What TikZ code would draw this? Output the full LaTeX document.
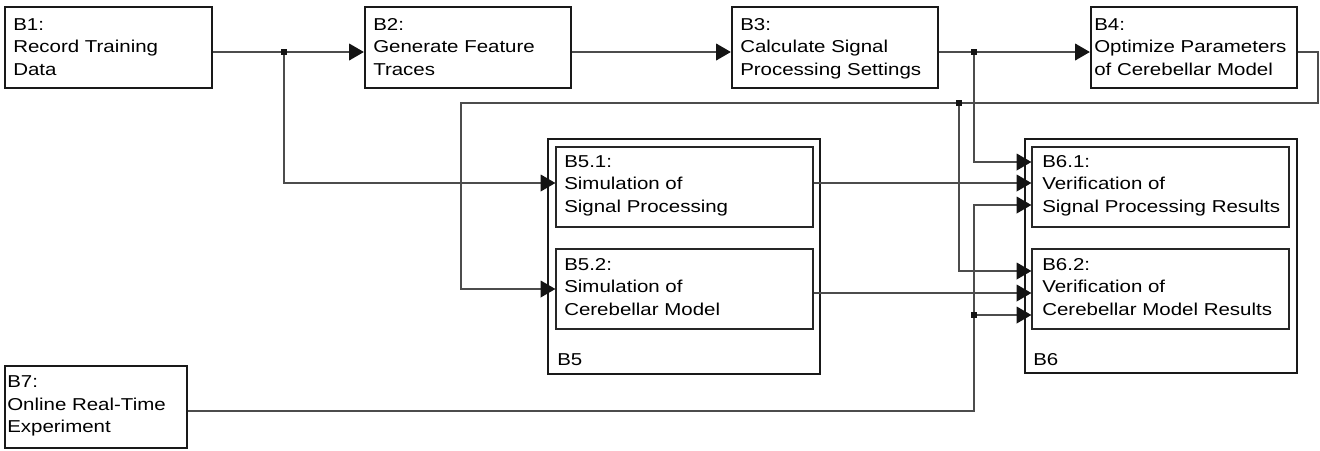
\documentclass[tikz,border=0pt]{standalone}
\usepackage{fontspec}
\setmainfont{Liberation Sans}[FakeStretch=1.19]
\usetikzlibrary{arrows.meta}
\tikzset{
  obox/.style={draw=black!90, line width=1.7pt, rectangle, inner sep=0pt},
  ibox/.style={draw=black!85, line width=0.9pt, rectangle, inner sep=0pt},
  txt/.style={anchor=north west, inner sep=0pt, align=left, text=black,
    font=\fontsize{12.9pt}{17pt}\selectfont},
  conn/.style={draw=black!70, line width=1pt},
  arr/.style={conn, -{Triangle[length=11pt, width=12.5pt, color=black!92]}},
  jdot/.style={fill=black!92, rectangle, minimum size=4.6pt, inner sep=0pt},
}
\begin{document}
\begin{tikzpicture}[x=0.75pt, y=-0.75pt]
\useasboundingbox (0,0) rectangle (1320,450);
% outer boxes
\node[obox, minimum width=155.25pt, minimum height=60.75pt] (B1) at (108.5,47.5) {};
\node[obox, minimum width=154.5pt, minimum height=60.75pt] (B2) at (468,47.5) {};
\node[obox, minimum width=154.5pt, minimum height=60.75pt] (B3) at (835,47.5) {};
\node[obox, minimum width=154.5pt, minimum height=60.75pt] (B4) at (1194,47.5) {};
\node[obox, minimum width=136.5pt, minimum height=61.5pt] (B7) at (96,407) {};
\node[obox, minimum width=204pt, minimum height=176.25pt] (B5) at (684,256.5) {};
\node[obox, minimum width=204pt, minimum height=175.5pt] (B6) at (1161,256) {};
% inner boxes
\node[ibox, minimum width=192.75pt, minimum height=60pt] (B5a) at (684.5,187) {};
\node[ibox, minimum width=192.75pt, minimum height=60pt] (B5b) at (684.5,289) {};
\node[ibox, minimum width=192.75pt, minimum height=60pt] (B6a) at (1160.5,187) {};
\node[ibox, minimum width=192.75pt, minimum height=60pt] (B6b) at (1160.5,289) {};
% texts
\node[txt] (T1) at (13,18) {B1:\\Record Training\\Data};
\node[txt] (T2) at (373,18) {B2:\\Generate Feature\\Traces};
\node[txt] (T3) at (740,18) {B3:\\Calculate Signal\\Processing Settings};
\node[txt] (T4) at (1094,18) {B4:\\Optimize Parameters\\of Cerebellar Model};
\node[txt] (T7) at (7,375.5) {B7:\\Online Real-Time\\Experiment};
\node[txt] (T51) at (564,155) {B5.1:\\Simulation of\\Signal Processing};
\node[txt] (T52) at (564,258) {B5.2:\\Simulation of\\Cerebellar Model};
\node[txt] (T61) at (1042,155) {B6.1:\\Verification of\\Signal Processing Results};
\node[txt] (T62) at (1042,258) {B6.2:\\Verification of\\Cerebellar Model Results};
\node[txt] (T5) at (557,353.5) {B5};
\node[txt] (T6) at (1033,353.5) {B6};
% junctions
\coordinate (j1) at (284,52);
\coordinate (j2) at (974,52);
\coordinate (j3) at (959,103);
\coordinate (j4) at (974,315);
\coordinate (c1) at (1318,103);
\coordinate (c2) at (461,103);
\coordinate (c3) at (974,411);
% connectors
\draw[arr] (B1.east |- j1) -- (B2.west |- j1);
\draw[arr] (B2.east |- j1) -- (B3.west |- j1);
\draw[arr] (B3.east |- j2) -- (B4.west |- j2);
\draw[arr] (j1) |- ([yshift=3pt]B5a.west);
\draw[arr] (B4.east |- j2) -| (c1) -- (c2) |- (B5b.west);
\draw[arr] (j2) |- ([yshift=18.75pt]B6a.west);
\draw[arr] (j3) |- ([yshift=13.5pt]B6b.west);
\draw[arr] ([yshift=3pt]B5a.east) -- ([yshift=3pt]B6a.west);
\draw[arr] ([yshift=-3pt]B5b.east) -- ([yshift=-3pt]B6b.west);
\draw[arr] ([yshift=-3pt]B7.east) -- (c3) |- ([yshift=-13.5pt]B6a.west);
\draw[arr] (j4) -- ([yshift=-19.5pt]B6b.west);
% dots
\node[jdot] (d1) at (j1) {};
\node[jdot] (d2) at (j2) {};
\node[jdot] (d3) at (j3) {};
\node[jdot] (d4) at (j4) {};
\end{tikzpicture}
\end{document}
